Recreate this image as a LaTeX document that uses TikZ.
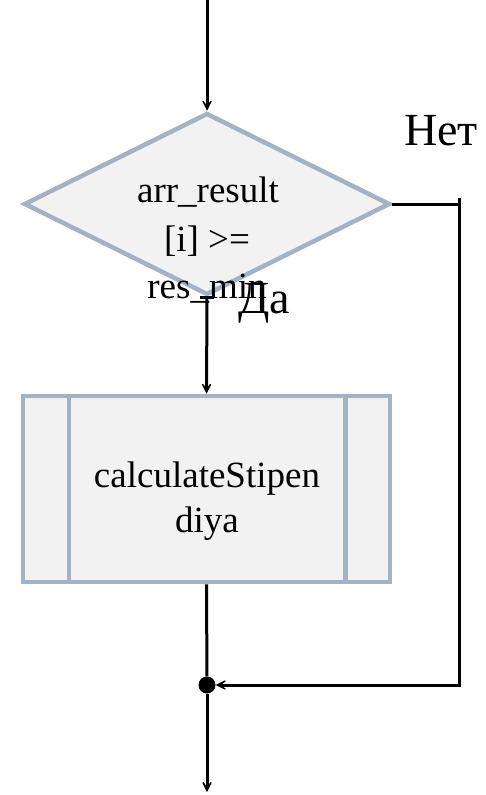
\documentclass[tikz,border=0pt]{standalone}
\usepackage{fontspec}
\setmainfont{Liberation Serif}
\usetikzlibrary{arrows.meta,shapes.geometric}
\definecolor{blockline}{HTML}{A3B3C3}
\definecolor{blockfill}{HTML}{F2F2F2}
\begin{document}
\begin{tikzpicture}[x=1pt,y=-1pt,
  flow/.style={line width=3pt, draw=black},
  tip/.style={-{Stealth[length=16pt,width=16pt,inset=11pt]}},
  block/.style={draw=blockline, fill=blockfill, line width=4.5pt, inner sep=0pt},
  lbl/.style={font=\fontsize{46}{46}\selectfont, inner sep=0pt, anchor=base},
  txt/.style={font=\fontsize{37}{44}\selectfont, inner sep=0pt, anchor=base}]
\useasboundingbox (0,0) rectangle (486,795);

% decision
\node[block, diamond, minimum width=366pt, minimum height=182pt] (cond) at (207,204) {};
\node[txt] (c1) at (208,202) {arr\_result};
\node[txt] (c2) at (207,251) {[i] >=};
\node[txt] (c3) at (207,298) {res\_min};

% predefined process
\node[block, rectangle, minimum width=367pt, minimum height=186pt] (proc) at (206.5,489) {};
\draw[blockline, line width=4.5pt] ([xshift=48pt]proc.north west) -- ([xshift=48pt]proc.south west);
\draw[blockline, line width=4.5pt] ([xshift=-47pt]proc.north east) -- ([xshift=-47pt]proc.south east);
\node[txt] (p1) at (207,487) {calculateStipen};
\node[txt] (p2) at (207,532) {diya};

% junction
\node[circle, fill=black, minimum size=17pt, inner sep=0pt] (merge) at (207,685) {};

% connectors
\coordinate (start) at (207,0);
\coordinate (finish) at (207,792);
\coordinate (rtop) at (459,198);
\coordinate (tickl) at (200,297);
\coordinate (tickr) at (214,297);

\draw[flow, tip] (start) -- (cond.north);
\draw[flow, tip] (cond.south) -- (proc.north);
\draw[flow] (tickl) -- (tickr);
\draw[flow] (proc.south) -- (merge);
\draw[flow, tip] (merge) -- (finish);
\draw[flow] (cond.east) -- (cond.east -| rtop);
\draw[flow, tip] (rtop) |- (merge);

% branch labels
\node[lbl] (no) at (441,145) {Нет};
\node[lbl] (yes) at (264,313) {Да};
\end{tikzpicture}
\end{document}
